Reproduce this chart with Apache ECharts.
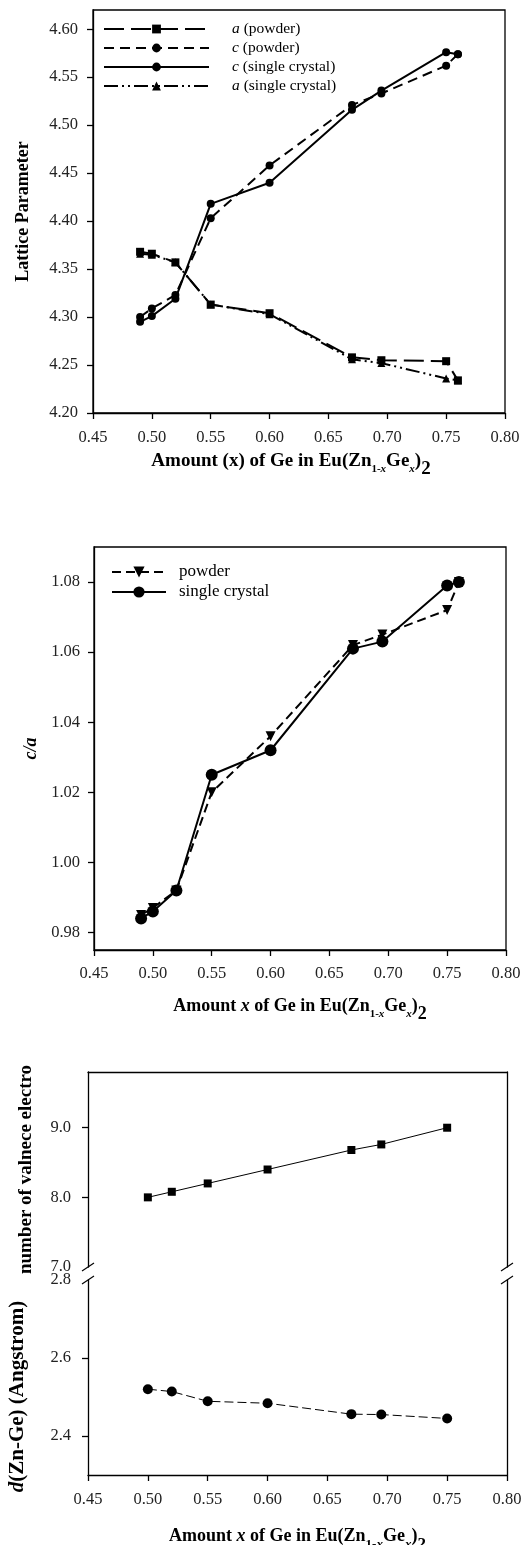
<!DOCTYPE html>
<html>
<head>
<meta charset="utf-8">
<script src="https://cdn.jsdelivr.net/npm/echarts@6/dist/echarts.min.js"></script>
<style>
html,body{margin:0;padding:0;background:#fff;}
#c{width:522px;height:1545px;}
</style>
</head>
<body>
<div id="c"></div>
<script>
// ---------- DATA ----------
const xCh1 = [0.49, 0.50, 0.52, 0.55, 0.60, 0.67, 0.695, 0.75, 0.76];
const aPowder = [4.368, 4.366, 4.357, 4.313, 4.304, 4.258, 4.255, 4.254, 4.234];
const cPowder = [4.300, 4.309, 4.323, 4.403, 4.458, 4.521, 4.533, 4.562, 4.574];
const cSingle = [4.295, 4.301, 4.319, 4.418, 4.440, 4.516, 4.536, 4.576, 4.574];
const aSingle = [4.366, 4.365, 4.357, 4.313, 4.303, 4.256, 4.252, 4.236, 4.234];

const xCh2 = [0.49, 0.50, 0.52, 0.55, 0.60, 0.67, 0.695, 0.75, 0.76];
const caPowder = [0.985, 0.987, 0.992, 1.020, 1.036, 1.062, 1.065, 1.072, 1.080];
const caSingle = [0.984, 0.986, 0.992, 1.025, 1.032, 1.061, 1.063, 1.079, 1.080];

const xCh3 = [0.50, 0.52, 0.55, 0.60, 0.67, 0.695, 0.75];
const valence = [8.0, 8.08, 8.2, 8.4, 8.68, 8.76, 9.0];
const dZnGe = [2.520, 2.514, 2.489, 2.484, 2.456, 2.455, 2.445];

const xTicks = [0.45, 0.50, 0.55, 0.60, 0.65, 0.70, 0.75, 0.80];
const yTicks1 = [4.20, 4.25, 4.30, 4.35, 4.40, 4.45, 4.50, 4.55, 4.60];
const yTicks2 = [0.98, 1.00, 1.02, 1.04, 1.06, 1.08];
const yTicks3a = [7.0, 8.0, 9.0];
const yTicks3b = [2.4, 2.6, 2.8];

const seriesNames1 = ['a (powder)', 'c (powder)', 'c (single crystal)', 'a (single crystal)'];
const seriesNames2 = ['powder', 'single crystal'];

// ---------- STYLE ----------
const FONT = 'Liberation Serif';
const BLACK = '#000';
const zip = (xs, ys) => xs.map((x, i) => [x, ys[i]]);

const titleRich = (base, sub, subPad, sub2, sub2Pad) => ({
  b: {fontFamily: FONT, fontWeight: 'bold', fontSize: base, color: BLACK, lineHeight: base + 2, verticalAlign: 'top'},
  bi: {fontFamily: FONT, fontWeight: 'bold', fontStyle: 'italic', fontSize: base, color: BLACK, lineHeight: base + 2, verticalAlign: 'top'},
  s: {fontFamily: FONT, fontWeight: 'bold', fontSize: sub, color: BLACK, lineHeight: sub, padding: [subPad, 0, 0, 0], verticalAlign: 'top'},
  si: {fontFamily: FONT, fontWeight: 'bold', fontStyle: 'italic', fontSize: sub, color: BLACK, lineHeight: sub, padding: [subPad, 0, 0, 0], verticalAlign: 'top'},
  s2: {fontFamily: FONT, fontWeight: 'bold', fontSize: sub2, color: BLACK, lineHeight: sub2, padding: [sub2Pad, 0, 0, 0], verticalAlign: 'top'}
});

const title1 = '{b|Amount (x) of Ge in Eu(Zn}{s|1-}{si|x}{b|Ge}{si|x}{b|)}{s2|2}';
const title2 = '{b|Amount }{bi|x}{b| of Ge in Eu(Zn}{s|1-}{si|x}{b|Ge}{si|x}{b|)}{s2|2}';
const title3 = '{b|Amount }{bi|x}{b| of Ge in Eu(Zn}{s|1-}{si|x}{b|Ge}{si|x}{b|)}{s2|2}';

const labelStyle = {fontFamily: FONT, fontSize: 16.5, color: '#222'};
const AXLINE = {show: true, lineStyle: {color: BLACK, width: 1.3}};

function xAxisCfg(grid, name, gap, rich, margin, pad) {
  return {
    type: 'value', gridIndex: grid, min: 0.45, max: 0.80,
    axisLine: AXLINE,
    axisTick: {show: true, inside: false, length: 6, lineStyle: {color: BLACK, width: 1.3}, customValues: xTicks},
    axisLabel: Object.assign({margin: margin, customValues: xTicks, formatter: v => v.toFixed(2)}, labelStyle),
    splitLine: {show: false},
    name: name, nameLocation: 'middle', nameGap: gap, nameMoveOverlap: false,
    nameTextStyle: {rich: rich, padding: pad}
  };
}

const option = {
  animation: false,
  backgroundColor: '#fff',
  grid: [
    {left: 93, top: 10, width: 412, height: 403, show: true, borderColor: BLACK, borderWidth: 1.3, outerBoundsMode: 'none', containLabel: false},
    {left: 94, top: 547, width: 412, height: 403, show: true, borderColor: BLACK, borderWidth: 1.3, outerBoundsMode: 'none', containLabel: false},
    {left: 88, top: 1072, width: 419, height: 195, outerBoundsMode: 'none', containLabel: false},
    {left: 88, top: 1280, width: 419, height: 195, outerBoundsMode: 'none', containLabel: false}
  ],
  legend: [
    {
      data: seriesNames1, orient: 'vertical', left: 103, top: 21, padding: 0,
      itemWidth: 105, itemHeight: 11, itemGap: 3,
      formatter: n => '{i|' + n.charAt(0) + '}{n|' + n.slice(1) + '}',
      textStyle: {
        fontFamily: FONT, fontSize: 15.5, lineHeight: 14, color: BLACK, padding: [0, 0, 0, 18],
        rich: {
          i: {fontFamily: FONT, fontSize: 15.5, lineHeight: 14, fontStyle: 'italic', color: BLACK},
          n: {fontFamily: FONT, fontSize: 15.5, lineHeight: 14, color: BLACK}
        }
      }
    },
    {
      data: seriesNames2, orient: 'vertical', left: 111, top: 563.5, padding: 0,
      itemWidth: 54, itemHeight: 14, itemGap: 3,
      textStyle: {fontFamily: FONT, fontSize: 17, lineHeight: 17, color: BLACK, padding: [0, 0, 0, 8]}
    }
  ],
  xAxis: [
    xAxisCfg(0, title1, 39, titleRich(19, 11, 12, 19, 8), 16, [0, 16, 0, 0]),
    xAxisCfg(1, title2, 47, titleRich(18, 11, 12, 18, 8), 15, 0),
    {
      type: 'value', gridIndex: 2, min: 0.45, max: 0.80, position: 'top',
      axisLine: AXLINE, axisTick: {show: false}, axisLabel: {show: false}, splitLine: {show: false}
    },
    xAxisCfg(3, title3, 52, titleRich(18, 13, 11, 17, 9), 16, 0)
  ],
  yAxis: [
    {
      type: 'value', gridIndex: 0, min: 4.20, max: 4.62,
      axisLine: AXLINE,
      axisTick: {show: true, length: 6, lineStyle: {color: BLACK, width: 1.3}, customValues: yTicks1},
      axisLabel: Object.assign({margin: 15, customValues: yTicks1, formatter: v => v.toFixed(2)}, labelStyle),
      splitLine: {show: false},
      name: 'Lattice Parameter', nameLocation: 'middle', nameGap: 61, nameMoveOverlap: false,
      nameTextStyle: {fontFamily: FONT, fontWeight: 'bold', fontSize: 18, color: BLACK}
    },
    {
      type: 'value', gridIndex: 1, min: 0.975, max: 1.09,
      axisLine: AXLINE,
      axisTick: {show: true, length: 6, lineStyle: {color: BLACK, width: 1.3}, customValues: yTicks2},
      axisLabel: Object.assign({margin: 14, customValues: yTicks2, formatter: v => v.toFixed(2)}, labelStyle),
      splitLine: {show: false},
      name: 'c/a', nameLocation: 'middle', nameGap: 54, nameMoveOverlap: false,
      nameTextStyle: {fontFamily: FONT, fontWeight: 'bold', fontStyle: 'italic', fontSize: 18, color: BLACK}
    },
    {
      type: 'value', gridIndex: 2, min: 7.0, max: 9.8,
      axisLine: AXLINE,
      axisTick: {show: true, length: 6, lineStyle: {color: BLACK, width: 1.3}, customValues: [8.0, 9.0]},
      axisLabel: Object.assign({margin: 17, customValues: yTicks3a, formatter: v => v.toFixed(1)}, labelStyle),
      splitLine: {show: false},
      name: 'number of valnece electrons', nameLocation: 'middle', nameGap: 52, nameMoveOverlap: false,
      nameTruncate: {maxWidth: 213, ellipsis: ''},
      nameTextStyle: {fontFamily: FONT, fontWeight: 'bold', fontSize: 19, color: BLACK}
    },
    {
      type: 'value', gridIndex: 3, min: 2.3, max: 2.8,
      axisLine: AXLINE,
      axisTick: {show: true, length: 6, lineStyle: {color: BLACK, width: 1.3}, customValues: [2.4, 2.6]},
      axisLabel: Object.assign({margin: 17, customValues: yTicks3b, formatter: v => v.toFixed(1)}, labelStyle),
      splitLine: {show: false},
      name: '{i|d}{n|(Zn-Ge) (Angstrom)}', nameLocation: 'middle', nameGap: 60, nameMoveOverlap: false,
      nameTextStyle: {
        padding: [0, 38, 0, 0],
        rich: {
          i: {fontFamily: FONT, fontWeight: 'bold', fontStyle: 'italic', fontSize: 21, color: BLACK},
          n: {fontFamily: FONT, fontWeight: 'bold', fontSize: 21, color: BLACK}
        }
      }
    },
    {
      type: 'value', gridIndex: 2, min: 7.0, max: 9.8, position: 'right',
      axisLine: AXLINE, axisTick: {show: false}, axisLabel: {show: false}, splitLine: {show: false}
    },
    {
      type: 'value', gridIndex: 3, min: 2.3, max: 2.8, position: 'right',
      axisLine: AXLINE, axisTick: {show: false}, axisLabel: {show: false}, splitLine: {show: false}
    }
  ],
  series: [
    {
      name: seriesNames1[0], type: 'line', xAxisIndex: 0, yAxisIndex: 0,
      data: zip(xCh1, aPowder), symbol: 'rect', symbolSize: 8,
      lineStyle: {color: BLACK, width: 2, type: [20, 7]}, itemStyle: {color: BLACK}
    },
    {
      name: seriesNames1[1], type: 'line', xAxisIndex: 0, yAxisIndex: 0,
      data: zip(xCh1, cPowder), symbol: 'circle', symbolSize: 8,
      lineStyle: {color: BLACK, width: 2, type: [10, 6]}, itemStyle: {color: BLACK}
    },
    {
      name: seriesNames1[2], type: 'line', xAxisIndex: 0, yAxisIndex: 0,
      data: zip(xCh1, cSingle), symbol: 'circle', symbolSize: 8,
      lineStyle: {color: BLACK, width: 2, type: 'solid'}, itemStyle: {color: BLACK}
    },
    {
      name: seriesNames1[3], type: 'line', xAxisIndex: 0, yAxisIndex: 0,
      data: zip(xCh1, aSingle), symbol: 'triangle', symbolSize: 8,
      lineStyle: {color: BLACK, width: 2, type: [14, 4, 2, 4, 2, 4]}, itemStyle: {color: BLACK}
    },
    {
      name: seriesNames2[0], type: 'line', xAxisIndex: 1, yAxisIndex: 1,
      data: zip(xCh2, caPowder), symbol: 'triangle', symbolRotate: 180, symbolSize: 10,
      lineStyle: {color: BLACK, width: 2, type: [9, 5]}, itemStyle: {color: BLACK}
    },
    {
      name: seriesNames2[1], type: 'line', xAxisIndex: 1, yAxisIndex: 1,
      data: zip(xCh2, caSingle), symbol: 'circle', symbolSize: 12,
      lineStyle: {color: BLACK, width: 2, type: 'solid'}, itemStyle: {color: BLACK}
    },
    {
      name: 'valence electrons', type: 'line', xAxisIndex: 2, yAxisIndex: 2,
      data: zip(xCh3, valence), symbol: 'rect', symbolSize: 8,
      lineStyle: {color: BLACK, width: 1, type: 'solid'}, itemStyle: {color: BLACK}
    },
    {
      name: 'd(Zn-Ge)', type: 'line', xAxisIndex: 3, yAxisIndex: 3,
      data: zip(xCh3, dZnGe), symbol: 'circle', symbolSize: 10,
      lineStyle: {color: BLACK, width: 1, type: [9, 4]}, itemStyle: {color: BLACK}
    }
  ]
};

const chart = echarts.init(document.getElementById('c'), null, {renderer: 'canvas'});
chart.setOption(option);

// axis-break slashes, placed from the axis scales
const breakTop = chart.convertToPixel({xAxisIndex: 2, yAxisIndex: 2}, [0.45, 7.0]);
const breakBot = chart.convertToPixel({xAxisIndex: 3, yAxisIndex: 3}, [0.45, 2.8]);
const rightX = chart.convertToPixel({xAxisIndex: 3}, 0.80);
const slash = (x, y) => ({
  type: 'line', shape: {x1: x - 6, y1: y + 4, x2: x + 6, y2: y - 4},
  style: {stroke: BLACK, lineWidth: 1.2}, silent: true
});
chart.setOption({
  graphic: [
    slash(breakTop[0], breakTop[1]), slash(breakBot[0], breakBot[1]),
    slash(rightX, breakTop[1]), slash(rightX, breakBot[1])
  ]
});
</script>
</body>
</html>
